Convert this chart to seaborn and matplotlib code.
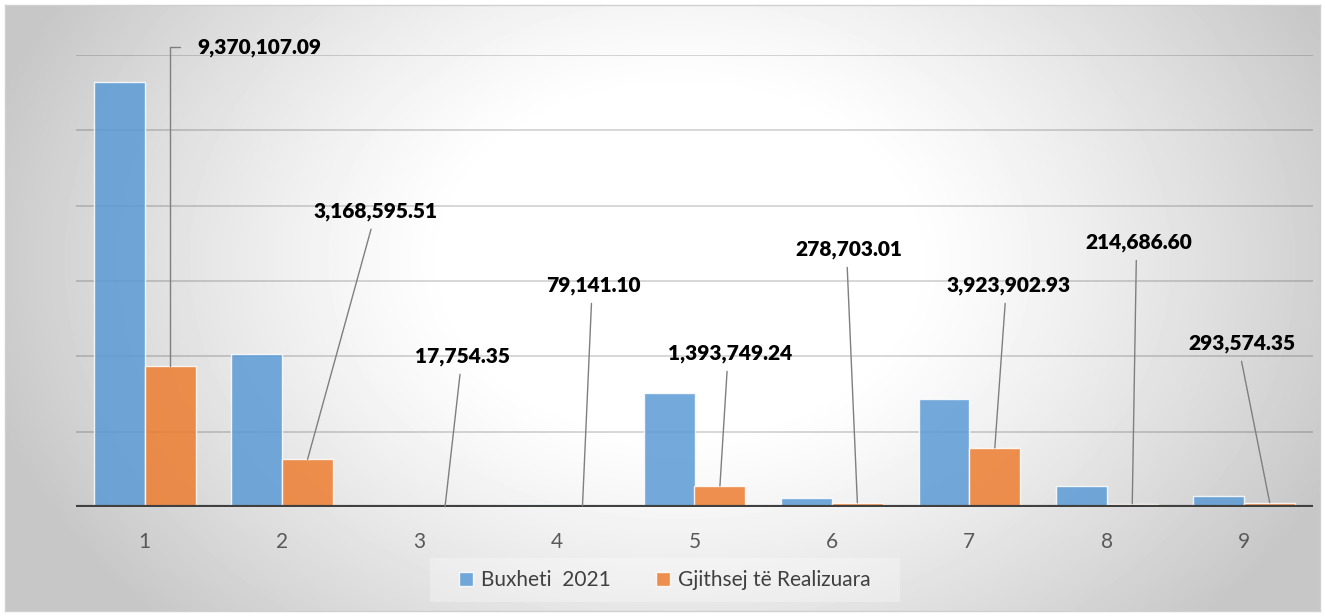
import numpy as np
import pandas as pd
import matplotlib
matplotlib.use("Agg")
import matplotlib.pyplot as plt
from matplotlib.patches import Rectangle
import seaborn as sns

# ---- data ----
categories = ["1", "2", "3", "4", "5", "6", "7", "8", "9"]
series_names = ["Buxheti  2021", "Gjithsej të Realizuara"]
buxheti = [28200000, 10150000, 30000, 200000, 7560000, 600000, 7170000, 1390000, 730000]
realizuara = [9370107.09, 3168595.51, 17754.35, 79141.10, 1393749.24,
              278703.01, 3923902.93, 214686.60, 293574.35]

# label positions (category units, value units) for the data labels
label_x = [0.385, 1.682, 2.315, 3.267, 4.259, 5.124, 6.283, 7.231, 7.983]
label_y = [30.52e6, 19.64e6, 10.02e6, 14.73e6, 10.22e6, 17.12e6, 14.73e6, 17.58e6, 10.88e6]

df = pd.DataFrame({
    "cat": categories * 2,
    "value": buxheti + realizuara,
    "series": [series_names[0]] * len(categories) + [series_names[1]] * len(categories),
})

sns.set_style("white")
plt.rcParams["font.family"] = ["Lato", "DejaVu Sans"]

W, H = 1325, 616
fig = plt.figure(figsize=(W / 100, H / 100), dpi=100)
fig.patch.set_facecolor("white")

# radial gradient background (white centre, grey edges)
bg = fig.add_axes([5 / W, 5 / H, 1315 / W, 606 / H], zorder=0)
gx, gy = np.meshgrid(np.linspace(5, 1320, 400), np.linspace(5, 611, 200))
d = np.sqrt(((gx - 680) / 650) ** 2 + ((gy - 260) / 480) ** 2)
t = np.clip((d - 0.35) / 0.75, 0, 1)
shade = 1 - 0.22 * t ** 1.2
bg.imshow(shade, cmap="gray", vmin=0, vmax=1, aspect="auto",
          extent=[0, 1, 0, 1], origin="upper", interpolation="bicubic")
bg.set_xlim(0, 1)
bg.set_ylim(0, 1)
bg.set_xticks([])
bg.set_yticks([])
for s in bg.spines.values():
    s.set_color("#d0d0d0")
    s.set_linewidth(1)

# faint legend box
fig.patches.append(Rectangle((430 / W, 1 - 602 / H), 470 / W, 44 / H,
                             transform=fig.transFigure, facecolor=(1, 1, 1, 0.3),
                             edgecolor="none", zorder=1))

ax = fig.add_axes([76 / W, 109 / H, 1237 / W, 452 / H], zorder=2)
ax.set_facecolor("none")

sns.barplot(data=df, x="cat", y="value", hue="series",
            palette=["#5b9bd5", "#ed7d31"], saturation=1, width=0.74, alpha=0.85,
            edgecolor=(1, 1, 1, 0.5), linewidth=1, ax=ax, zorder=2)

ax.set_xlim(-0.5, 8.5)
ax.set_ylim(0, 30e6)
ax.set_yticks(np.arange(0, 30e6 + 1, 5e6))
ax.yaxis.grid(True, color="black", alpha=0.17, linewidth=1.3, zorder=0)
ax.set_axisbelow(True)
ax.axhline(0, color="#404040", linewidth=3, zorder=3)
for s in ax.spines.values():
    s.set_visible(False)
ax.tick_params(axis="y", length=0, labelleft=False)
ax.tick_params(axis="x", length=0, pad=18, labelsize=15, labelcolor="#595959")
ax.set_xlabel("")
ax.set_ylabel("")

# data labels on the orange bars
orange_bars = ax.containers[1]
for i, bar in enumerate(orange_bars):
    bx = bar.get_x() + bar.get_width() / 2
    bh = bar.get_height()
    txt = f"{realizuara[i]:,.2f}"
    if i == 0:
        ax.annotate(txt, xy=(bx, bh), xytext=(label_x[i], label_y[i]),
                    ha="left", va="center", fontsize=15, fontweight="heavy",
                    color="black", zorder=5,
                    arrowprops=dict(arrowstyle="-", color="#7f7f7f", lw=1.0,
                                    connectionstyle="angle,angleA=0,angleB=90,rad=0",
                                    relpos=(0, 0.5), shrinkA=10, shrinkB=0))
    else:
        ax.annotate(txt, xy=(bx, bh), xytext=(label_x[i], label_y[i]),
                    ha="center", va="center", fontsize=15, fontweight="heavy",
                    color="black", zorder=5,
                    arrowprops=dict(arrowstyle="-", color="#7f7f7f", lw=1.0,
                                    relpos=(0.48, 0), shrinkA=4, shrinkB=0))

# legend
handles, labels = ax.get_legend_handles_labels()
ax.get_legend().remove()
leg = fig.legend(handles, labels, loc="center", bbox_to_anchor=(665 / W, 1 - 580 / H),
                 ncol=2, frameon=False, fontsize=15, handlelength=0.65, handleheight=0.65,
                 handletextpad=0.4, columnspacing=2.2)
for t_ in leg.get_texts():
    t_.set_color("#404040")

fig.savefig("out.png", dpi=100)
